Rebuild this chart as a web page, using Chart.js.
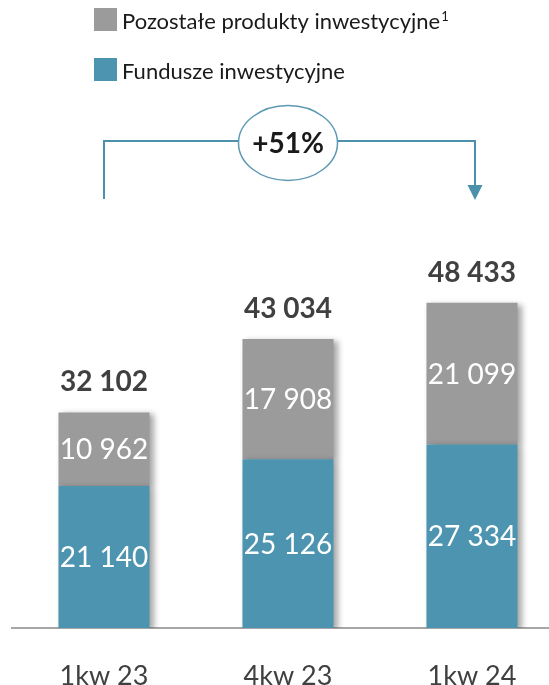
<!DOCTYPE html>
<html lang="pl">
<head>
<meta charset="utf-8">
<title>Aktywa inwestycyjne</title>
<script src="https://cdn.jsdelivr.net/npm/chart.js@4/dist/chart.umd.min.js"></script>
<style>
  html, body { margin: 0; padding: 0; background: #fff; overflow: hidden; }
  #wrap { position: relative; width: 564px; height: 685px; }
</style>
</head>
<body>
<div id="wrap"><canvas id="assetsChart"></canvas></div>
<script>
const kwartaly = ['1kw 23', '4kw 23', '1kw 24'];
const fundusze = [21140, 25126, 27334];
const pozostale = [10962, 17908, 21099];
const sumy = [32102, 43034, 48433];
const zmiana = '+51%';

const NIEBIESKI = '#4d94b1';
const SZARY = '#9b9b9b';
const FONT = 'Lato, "Open Sans", sans-serif';

function formatuj(n) {
    return String(n).replace(/\B(?=(\d{3})+(?!\d))/g, ' ');
}

// cien pod slupkami
const cienPlugin = {
    id: 'cien',
    beforeDatasetsDraw(chart) {
        const ctx = chart.ctx;
        ctx.save();
        ctx.shadowColor = 'rgba(0,0,0,0.35)';
        ctx.shadowBlur = 6;
        ctx.shadowOffsetX = 4;
        ctx.shadowOffsetY = 2;
    },
    afterDatasetsDraw(chart) {
        chart.ctx.restore();
    }
};

// wartosci w slupkach i sumy nad nimi
const etykietyPlugin = {
    id: 'etykiety',
    afterDatasetsDraw(chart) {
        const ctx = chart.ctx;
        ctx.save();
        ctx.textAlign = 'center';
        ctx.textBaseline = 'middle';
        ctx.fillStyle = '#ffffff';
        ctx.font = '28px ' + FONT;
        chart.data.datasets.forEach((ds, i) => {
            chart.getDatasetMeta(i).data.forEach((bar, j) => {
                ctx.fillText(formatuj(ds.data[j]), bar.x, (bar.y + bar.base) / 2 + 1);
            });
        });
        const gora = chart.getDatasetMeta(chart.data.datasets.length - 1).data;
        ctx.fillStyle = '#404040';
        ctx.font = 'bold 28px ' + FONT;
        gora.forEach((bar, j) => {
            ctx.fillText(formatuj(sumy[j]), bar.x, bar.y - 30);
        });
        ctx.restore();
    }
};

// legenda i strzalka ze zmiana
const dodatkiPlugin = {
    id: 'dodatki',
    afterDraw(chart) {
        const ctx = chart.ctx;
        const x = chart.scales.x;
        ctx.save();

        // legenda
        const pozycje = [
            { kolor: SZARY, tekst: chart.data.datasets[1].label, y: 8 },
            { kolor: NIEBIESKI, tekst: chart.data.datasets[0].label, y: 58 }
        ];
        ctx.textAlign = 'left';
        ctx.textBaseline = 'alphabetic';
        pozycje.forEach(p => {
            ctx.fillStyle = p.kolor;
            ctx.fillRect(94, p.y, 23, 23);
            ctx.fillStyle = '#1a1a1a';
            ctx.font = '22px ' + FONT;
            ctx.fillText(p.tekst, 122, p.y + 21);
            if (p.kolor === SZARY) {
                const w = ctx.measureText(p.tekst).width;
                ctx.font = '13px ' + FONT;
                ctx.fillText('1', 122 + w + 1, p.y + 13);
            }
        });

        // strzalka
        const x1 = x.getPixelForValue(0);
        const x2 = x.getPixelForValue(1);
        const x3 = x.getPixelForValue(2) + 3;
        const yl = 141;
        const rx = 49.5, ry = 37.5, cy = 143;
        ctx.strokeStyle = '#4b91ac';
        ctx.lineWidth = 2;
        ctx.beginPath();
        ctx.moveTo(x1, 199);
        ctx.lineTo(x1, yl);
        ctx.lineTo(x2 - rx, yl);
        ctx.moveTo(x2 + rx, yl);
        ctx.lineTo(x3, yl);
        ctx.lineTo(x3, 186);
        ctx.stroke();
        ctx.fillStyle = '#4b91ac';
        ctx.beginPath();
        ctx.moveTo(x3 - 7.5, 185);
        ctx.lineTo(x3 + 7.5, 185);
        ctx.lineTo(x3, 200);
        ctx.closePath();
        ctx.fill();

        ctx.lineWidth = 1.5;
        ctx.strokeStyle = '#5a9ab3';
        ctx.beginPath();
        ctx.ellipse(x2, cy, rx, ry, 0, 0, Math.PI * 2);
        ctx.stroke();

        ctx.fillStyle = '#1a1a1a';
        ctx.font = 'bold 28px ' + FONT;
        ctx.textAlign = 'center';
        ctx.textBaseline = 'middle';
        ctx.fillText(zmiana, x2, cy + 1);
        ctx.restore();
    }
};

const ctx = document.getElementById('assetsChart').getContext('2d');

const myChart = new Chart(ctx, {
    type: 'bar',
    data: {
        labels: kwartaly,
        datasets: [
            {
                label: 'Fundusze inwestycyjne',
                data: fundusze,
                backgroundColor: NIEBIESKI,
                borderWidth: 0
            },
            {
                label: 'Pozostałe produkty inwestycyjne',
                data: pozostale,
                backgroundColor: SZARY,
                borderWidth: 0
            }
        ]
    },
    options: {
        responsive: true,
        maintainAspectRatio: false,
        animation: false,
        layout: {
            padding: { top: 225, left: 12, right: 0, bottom: 0 }
        },
        barPercentage: 0.495,
        categoryPercentage: 1,
        plugins: {
            legend: { display: false },
            tooltip: { enabled: false }
        },
        scales: {
            x: {
                stacked: true,
                grid: { display: false, drawTicks: false },
                border: { display: true, color: '#a6a6a6', width: 2 },
                ticks: {
                    color: '#404040',
                    padding: 35,
                    font: { family: FONT, size: 27, lineHeight: 1 }
                },
                afterFit(scale) {
                    scale.height = 57;
                }
            },
            y: {
                stacked: true,
                display: false,
                min: 0,
                max: 60000
            }
        }
    },
    plugins: [cienPlugin, etykietyPlugin, dodatkiPlugin]
});
</script>
</body>
</html>
